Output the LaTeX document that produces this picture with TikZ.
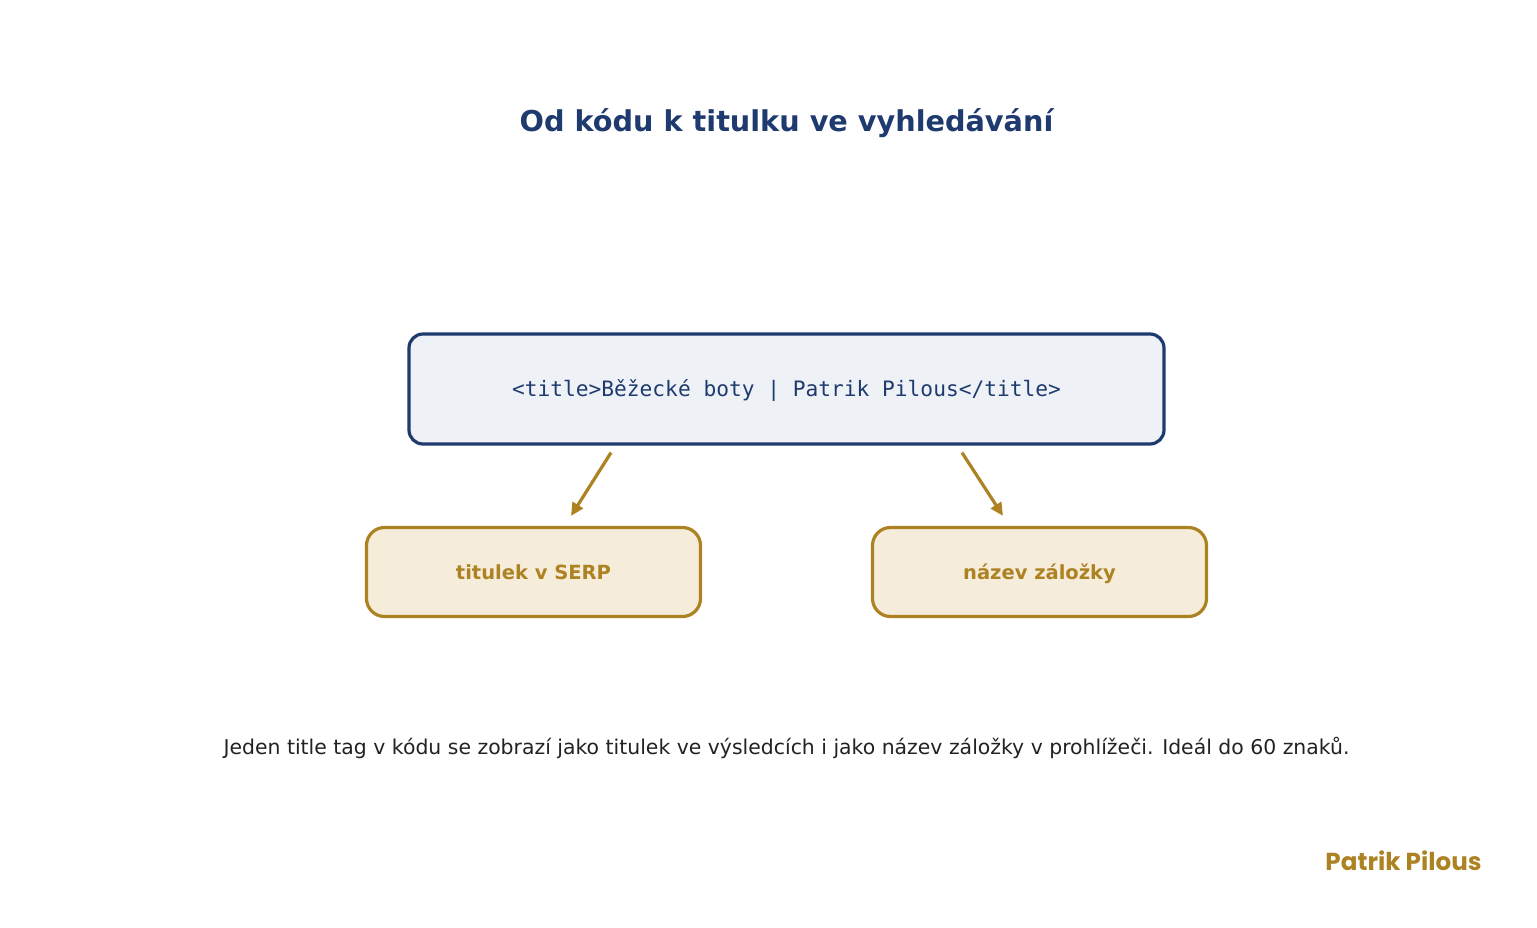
\documentclass[tikz,border=0pt]{standalone}
\usepackage{fontspec}
\setmainfont{DejaVu Sans}
\setmonofont{DejaVu Sans Mono}
\newfontfamily\brandfont{Poppins}
\usetikzlibrary{arrows.meta}
\definecolor{navy}{HTML}{1E3A6E}
\definecolor{codefill}{HTML}{EEF2F7}
\definecolor{gold}{HTML}{AD8222}
\definecolor{goldfill}{HTML}{F5ECDA}
\definecolor{captext}{HTML}{222222}

\begin{document}
\begin{tikzpicture}[x=1pt, y=-1pt,
    codebox/.style={draw=navy, fill=codefill, line width=3.2pt, rounded corners=14pt,
      minimum width=755pt, minimum height=110pt, inner sep=0pt, text height=15pt, text depth=0pt},
    outbox/.style={draw=gold, fill=goldfill, line width=3.2pt, rounded corners=18pt,
      minimum width=334pt, minimum height=89pt, inner sep=0pt, text height=14pt, text depth=0pt,
      text=gold, font=\bfseries\fontsize{19.5}{23}\selectfont},
    arrow/.style={draw=gold, line width=3.2pt, -{Triangle[length=13pt, width=12pt]}}]
    \useasboundingbox (0,0) rectangle (1537,927);
    \node[text=navy, font=\bfseries\fontsize{28.7}{33}\selectfont] (title) at (786.5,123) {Od kódu k titulku ve vyhledávání};
    \node[codebox, text=navy, font=\ttfamily\fontsize{21.2}{24}\selectfont] (code) at (786.5,389) {<title>Běžecké boty | Patrik Pilous</title>};
    \node[outbox] (serp) at (533.5,572) {titulek v SERP};
    \node[outbox] (tab) at (1039.5,572) {název záložky};
    \draw[arrow] ([xshift=-175.5pt, yshift=-7pt]code.south) -- ([xshift=37.5pt, yshift=10pt]serp.north);
    \draw[arrow] ([xshift=175.5pt, yshift=-7pt]code.south) -- ([xshift=-36.5pt, yshift=10pt]tab.north);
    \node[text=captext, font=\fontsize{20.4}{24}\selectfont] (caption) at (786.5,748) {Jeden title tag v kódu se zobrazí jako titulek ve výsledcích i jako název záložky v prohlížeči. Ideál do 60 znaků.};
    \node[text=gold, font=\brandfont\bfseries\fontsize{24.6}{28}\selectfont] (brand) at (1403.5,861) {Patrik Pilous};
  \end{tikzpicture}
\end{document}
